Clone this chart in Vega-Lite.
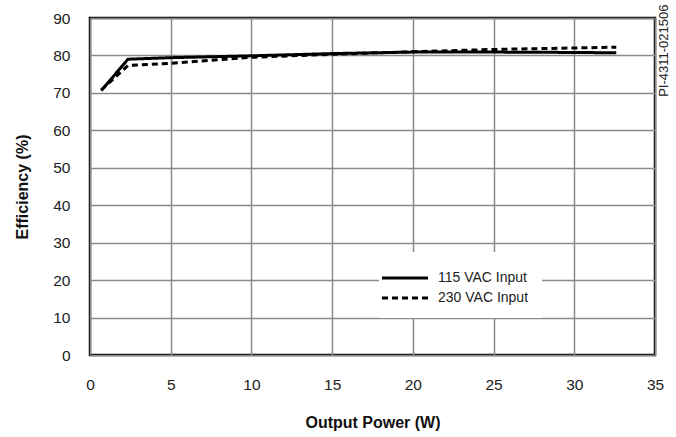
{
  "$schema": "https://vega.github.io/schema/vega-lite/v6.json",
  "autosize": {"type": "none"},
  "width": 565,
  "height": 337,
  "padding": {"left": 90, "top": 18, "right": 21, "bottom": 82},
  "background": "white",
  "config": {
    "font": "Liberation Sans",
    "view": {"stroke": "black", "strokeWidth": 2.5},
    "axis": {"grid": true, "gridColor": "#8a8a8a", "gridWidth": 1.5, "domain": false, "ticks": false, "labelOverlap": false, "labelFlush": false, "labelBound": false, "labelFont": "Liberation Sans", "labelFontSize": 15.5, "labelColor": "#222", "titleFont": "Liberation Sans", "titleFontSize": 16, "titleFontWeight": "bold", "titleColor": "#111"}
  },
  "data": {
    "values": [
      {"p": 0.7, "eff": 70.6, "s": "115 VAC Input"},
      {"p": 2.35, "eff": 79.0, "s": "115 VAC Input"},
      {"p": 5, "eff": 79.4, "s": "115 VAC Input"},
      {"p": 10, "eff": 79.9, "s": "115 VAC Input"},
      {"p": 15, "eff": 80.5, "s": "115 VAC Input"},
      {"p": 20, "eff": 80.9, "s": "115 VAC Input"},
      {"p": 25, "eff": 80.9, "s": "115 VAC Input"},
      {"p": 30, "eff": 80.8, "s": "115 VAC Input"},
      {"p": 32.6, "eff": 80.7, "s": "115 VAC Input"},
      {"p": 0.7, "eff": 70.8, "s": "230 VAC Input"},
      {"p": 2.35, "eff": 77.3, "s": "230 VAC Input"},
      {"p": 5, "eff": 77.9, "s": "230 VAC Input"},
      {"p": 10, "eff": 79.5, "s": "230 VAC Input"},
      {"p": 15, "eff": 80.3, "s": "230 VAC Input"},
      {"p": 20, "eff": 81.0, "s": "230 VAC Input"},
      {"p": 25, "eff": 81.6, "s": "230 VAC Input"},
      {"p": 30, "eff": 82.0, "s": "230 VAC Input"},
      {"p": 32.6, "eff": 82.2, "s": "230 VAC Input"}
    ]
  },
  "layer": [
    {
      "mark": {"type": "line", "color": "black", "strokeWidth": 3},
      "encoding": {
        "x": {"field": "p", "type": "quantitative", "scale": {"domain": [0, 35], "nice": false}, "axis": {"values": [0,5,10,15,20,25,30,35], "labelPadding": 22, "title": "Output Power (W)", "titlePadding": 22}},
        "y": {"field": "eff", "type": "quantitative", "scale": {"domain": [0, 90], "nice": false}, "axis": {"values": [0,10,20,30,40,50,60,70,80,90], "labelPadding": 20, "title": "Efficiency (%)", "titlePadding": 22}},
        "strokeDash": {"field": "s", "type": "nominal", "scale": {"domain": ["115 VAC Input", "230 VAC Input"], "range": [[1, 0], [6, 4]]},
          "legend": {"title": null, "orient": "none", "legendX": 289, "legendY": 234, "fillColor": "white", "padding": 13, "symbolType": "M-2,0H2", "symbolSize": 529, "symbolStrokeWidth": 3, "symbolStrokeColor": "black", "symbolFillColor": "transparent", "labelFontSize": 14, "labelFont": "Liberation Sans", "labelColor": "#222", "labelOffset": 20, "rowPadding": -4}}
      }
    },
    {
      "data": {"values": [{"t": "PI-4311-021506", "p": 35.55, "eff": 93.6}]},
      "mark": {"type": "text", "angle": 270, "align": "right", "baseline": "middle", "fontSize": 13, "font": "Liberation Sans", "color": "#222", "clip": false},
      "encoding": {
        "x": {"field": "p", "type": "quantitative", "scale": {"domain": [0, 35], "nice": false}, "axis": {"values": [0,5,10,15,20,25,30,35], "labelPadding": 22, "title": "Output Power (W)", "titlePadding": 22}},
        "y": {"field": "eff", "type": "quantitative", "scale": {"domain": [0, 90], "nice": false}, "axis": {"values": [0,10,20,30,40,50,60,70,80,90], "labelPadding": 20, "title": "Efficiency (%)", "titlePadding": 22}},
        "text": {"field": "t"}
      }
    }
  ]
}
